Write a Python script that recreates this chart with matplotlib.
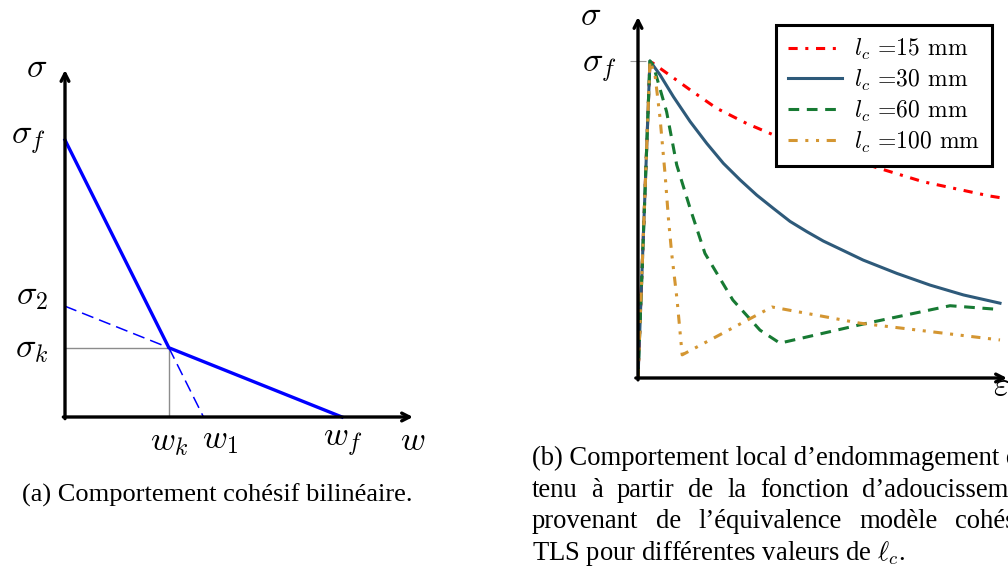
import matplotlib
matplotlib.use('Agg')
import matplotlib.pyplot as plt

W, H = 1008, 571

# (a) bilinear cohesive law
sig_f, sig_2, sig_k = 1.0, 0.40, 0.25
w_k, w_1, w_f = 0.375, 0.50, 1.0

# (b) local damage behaviour for several l_c (x: strain, y: sigma / sigma_f)
eps_15 = [0, 0.033, 0.061, 0.144, 0.217, 0.300, 0.374, 0.613, 0.788, 0.972, 1.0]
sig_15 = [0, 1.0, 0.977, 0.909, 0.851, 0.803, 0.767, 0.680, 0.619, 0.574, 0.569]
eps_30 = [0, 0.033, 0.061, 0.098, 0.144, 0.190, 0.236, 0.282, 0.328, 0.374, 0.420,
          0.466, 0.512, 0.558, 0.622, 0.715, 0.807, 0.899, 1.0]
sig_30 = [0, 1.0, 0.956, 0.887, 0.809, 0.740, 0.677, 0.625, 0.577, 0.535, 0.494,
          0.462, 0.432, 0.407, 0.372, 0.330, 0.293, 0.262, 0.236]
eps_60 = [0, 0.033, 0.042, 0.079, 0.107, 0.144, 0.185, 0.262, 0.337, 0.392, 0.633, 0.862, 1.0]
sig_60 = [0, 1.0, 0.987, 0.840, 0.672, 0.535, 0.393, 0.246, 0.151, 0.110, 0.173, 0.228, 0.216]
eps_100 = [0, 0.033, 0.047, 0.061, 0.075, 0.084, 0.093, 0.108, 0.122, 0.370, 0.613, 1.0]
sig_100 = [0, 1.0, 0.956, 0.819, 0.640, 0.504, 0.393, 0.246, 0.073, 0.224, 0.173, 0.120]
labels_b = [r'$l_c$ =15 mm', r'$l_c$ =30 mm', r'$l_c$ =60 mm', r'$l_c$ =100 mm']

plt.rcParams['mathtext.fontset'] = 'cm'

fig = plt.figure(figsize=(W / 100, H / 100), dpi=100)


def px_axes(left, top, right, bottom):
    return fig.add_axes([left / W, 1 - bottom / H, (right - left) / W, (bottom - top) / H])


def draw_arrows(ax, xmax, ymax):
    props = dict(arrowstyle='->,head_length=0.55,head_width=0.28', lw=2.4, color='k',
                 shrinkA=0, shrinkB=0)
    ax.annotate('', xy=(xmax, 0), xytext=(-0.006, 0), arrowprops=props, annotation_clip=False)
    ax.annotate('', xy=(0, ymax), xytext=(0, -0.006), arrowprops=props, annotation_clip=False)


def lab(ax, s, xy, dx, dy, ha='center', size=24.5):
    ax.annotate(s, xy=xy, xytext=(dx, dy), textcoords='offset pixels',
                ha=ha, va='center', fontsize=size, annotation_clip=False)


# ---------- (a) ----------
axa = px_axes(65, 70, 413, 417)
xa_max, ya_max = 348 / 277, 347 / 277
axa.set_xlim(0, xa_max)
axa.set_ylim(0, ya_max)
axa.axis('off')

axa.plot([0, w_k], [sig_k, sig_k], color='#8c8c8c', lw=1.0, zorder=1)
axa.plot([w_k, w_k], [0, sig_k], color='#8c8c8c', lw=1.0, zorder=1)
axa.plot([0, w_k], [sig_2, sig_k], color='#0000ff', lw=1.1, ls=(0, (8, 4)), zorder=2)
axa.plot([w_k, w_1], [sig_k, 0], color='#0000ff', lw=1.1, ls=(0, (8, 4)), zorder=2)
axa.plot([0, w_k, w_f], [sig_f, sig_k, 0], color='#0000ff', lw=2.4, zorder=3,
         solid_joinstyle='miter', clip_on=False)
draw_arrows(axa, xa_max, ya_max)

lab(axa, r'$\sigma$', (0, ya_max), -28, 2)
lab(axa, r'$\sigma_f$', (0, sig_f), -19, 1, ha='right')
lab(axa, r'$\sigma_2$', (0, sig_2), -17, 11, ha='right')
lab(axa, r'$\sigma_k$', (0, sig_k), -17, -1, ha='right')
lab(axa, r'$w_k$', (w_k, 0), 0, -25)
lab(axa, r'$w_1$', (w_1, 0), 17, -23)
lab(axa, r'$w_f$', (w_f, 0), 1, -25)
lab(axa, r'$w$', (xa_max, 0), 0, -24)

fig.text(22 / W, 1 - 502 / H, '(a) Comportement cohésif bilinéaire.',
         family='Liberation Serif', fontsize=19, va='baseline')

# ---------- (b) ----------
axb = px_axes(638, 17, 1007, 378)
xb_max, yb_max = 369 / 362, 361 / 317
axb.set_xlim(0, xb_max)
axb.set_ylim(0, yb_max)
for sp in axb.spines.values():
    sp.set_visible(False)
axb.set_xticks([])
axb.set_yticks([1.0], labels=[r'$\sigma_f$'])
axb.tick_params(axis='y', direction='inout', length=11, width=0.8, color='#999999',
                labelsize=24.5, pad=10)

axb.plot(eps_15, sig_15, color='#ff0000', lw=2.2, ls=(0, (3, 2.5, 1, 2.5)), label=labels_b[0])
axb.plot(eps_30, sig_30, color='#2e5a7a', lw=2.2, label=labels_b[1])
axb.plot(eps_60, sig_60, color='#177a33', lw=2.2, ls=(0, (3.5, 2.5)), label=labels_b[2])
axb.plot(eps_100, sig_100, color='#d49632', lw=2.2, ls=(0, (3, 2.5, 1, 2.5, 1, 2.5)),
         label=labels_b[3])
draw_arrows(axb, xb_max, yb_max)

lab(axb, r'$\sigma$', (0, yb_max), -47, 1)
fig.text(993 / W, 1 - 386 / H, r'$\varepsilon$', fontsize=24.5, va='center', ha='left')

leg = axb.legend(loc='upper right', bbox_to_anchor=(992 / W, 1 - 25 / H),
                 bbox_transform=fig.transFigure, borderaxespad=0, fancybox=False,
                 framealpha=1, edgecolor='k', prop={'family': 'cmr10', 'size': 17},
                 handlelength=2.3, handletextpad=0.5, labelspacing=0.25, borderpad=0.5)
leg.get_frame().set_linewidth(2.2)

# caption (b), justified
renderer = fig.canvas.get_renderer()
cap_kw = dict(family='Liberation Serif', fontsize=19.2, va='baseline', math_fontfamily='cm')
cap_lines = ['(b) Comportement local d’endommagement ob-',
             'tenu à partir de la fonction d’adoucissement',
             'provenant de l’équivalence modèle cohésif-',
             r'TLS pour différentes valeurs de $\ell_c$.']
cap_base = [465, 497, 528.5, 560]
x0 = 532
t1 = fig.text(x0 / W, 1 - cap_base[0] / H, cap_lines[0], **cap_kw)
x1 = x0 + t1.get_window_extent(renderer).width
for line, yb in zip(cap_lines[1:3], cap_base[1:3]):
    words = line.split(' ')
    texts = [fig.text(0, 1 - yb / H, w, **cap_kw) for w in words]
    widths = [t.get_window_extent(renderer).width for t in texts]
    gap = (x1 - x0 - sum(widths)) / (len(words) - 1)
    x = x0
    for t, wd in zip(texts, widths):
        t.set_x(x / W)
        x += wd + gap
fig.text(x0 / W, 1 - cap_base[3] / H, cap_lines[3], **cap_kw)

fig.savefig('out.png', dpi=100)
